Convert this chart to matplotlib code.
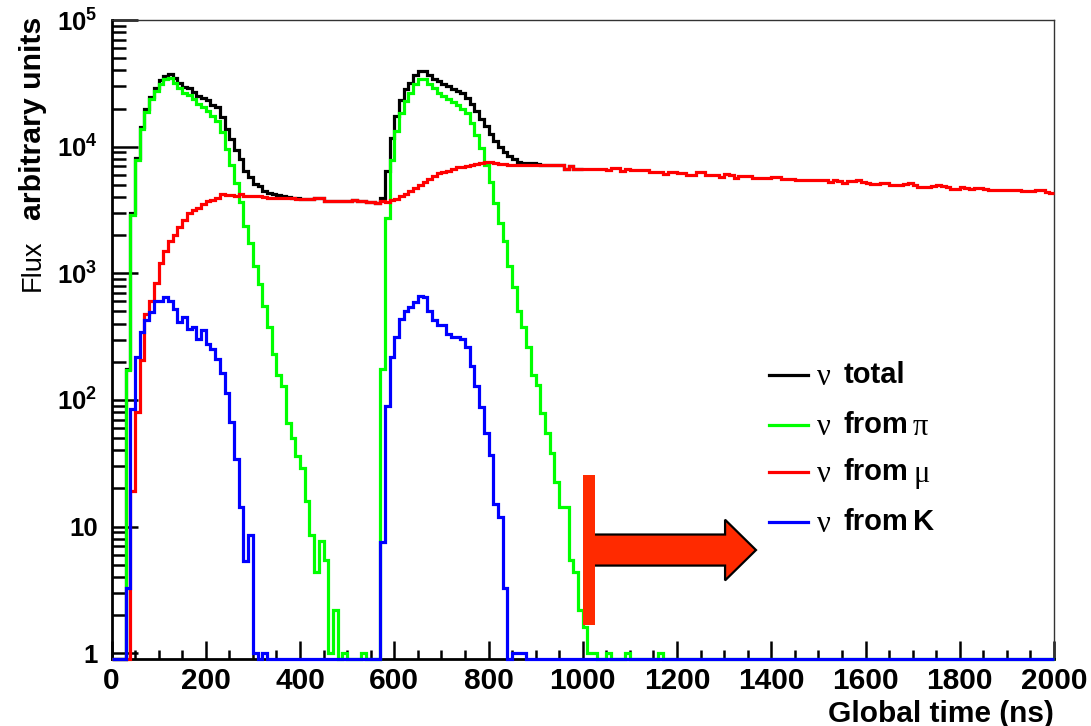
import numpy as np
import matplotlib
matplotlib.use("Agg")
import matplotlib.pyplot as plt
from matplotlib.ticker import MultipleLocator, LogLocator, NullFormatter
from matplotlib.patches import Polygon, Rectangle
from matplotlib.lines import Line2D

# ---------------- data (10 ns bins, 0 - 2000 ns) ----------------
bin_width_ns = 10
n_bins = 200

flux_mu = [
    0, 0, 0, 0, 19, 81, 206, 480, 600, 843,
    1210, 1490, 1790, 2020, 2340, 2640, 2980, 3160, 3300, 3500,
    3720, 3780, 3950, 4200, 4150, 4150, 4100, 4250, 4100, 4070,
    4070, 4050, 4000, 3950, 3950, 3950, 3920, 3900, 3900, 3870,
    3850, 3870, 3850, 3950, 3900, 3750, 3720, 3720, 3700, 3720,
    3750, 3780, 3750, 3700, 3650, 3650, 3560, 3750, 3650, 3780,
    3850, 4050, 4250, 4500, 4750, 5000, 5250, 5550, 5850, 6150,
    6300, 6450, 6700, 6900, 6900, 7000, 7100, 7300, 7400, 7550,
    7560, 7460, 7290, 7340, 7200, 7200, 7110, 7110, 7200, 7200,
    7110, 7110, 7110, 7110, 7110, 7110, 6700, 7000, 6630, 6630,
    6630, 6630, 6630, 6630, 6630, 6500, 6780, 6780, 6390, 6630,
    6500, 6500, 6500, 6500, 6310, 6310, 6310, 6100, 6310, 6310,
    6200, 6200, 5940, 5940, 6310, 6310, 5940, 5940, 5940, 5770,
    6130, 5940, 5670, 5830, 5830, 5830, 5670, 5700, 5700, 5700,
    5770, 5770, 5600, 5600, 5530, 5500, 5430, 5430, 5430, 5430,
    5430, 5430, 5270, 5430, 5350, 5210, 5340, 5340, 5430, 5300,
    5210, 5100, 5090, 5150, 5180, 5000, 4970, 5000, 5060, 5150,
    4950, 4820, 4800, 4770, 4900, 4970, 4920, 4800, 4630, 4650,
    4770, 4700, 4650, 4680, 4680, 4650, 4520, 4540, 4540, 4550,
    4570, 4570, 4520, 4480, 4480, 4480, 4540, 4540, 4350, 4320,
]

flux_pi = [
    0, 0, 0, 173, 2890, 7790, 13800, 18900, 23600, 27500,
    31500, 33900, 35000, 31900, 29200, 26700, 25400, 23700, 21600, 20400,
    19200, 17500, 16000, 13000, 9600, 7110, 5120, 3680, 2350, 1740,
    1140, 820, 555, 376, 232, 157, 128, 66, 50, 36,
    29, 16, 8.6, 4.4, 7.7, 5.4, 1, 2.2, 0, 1,
    0, 0, 0, 1, 0, 0, 0, 177, 2720, 7780,
    13400, 18600, 23000, 26700, 31000, 33900, 33900, 31000, 29200, 26700,
    25100, 23700, 22600, 21200, 19800, 18600, 15500, 12400, 9730, 7200,
    5270, 3570, 2490, 1790, 1140, 780, 507, 376, 262, 157,
    131, 79, 55, 38, 22.6, 14.2, 14.2, 5.4, 4.4, 2.2,
    1.6, 1, 1, 0, 0, 1, 0, 0, 0, 1,
    0, 0, 0, 0, 0, 0, 1, 0, 0, 0,
] + [0] * 80

flux_K = [
    0, 0, 0, 3.3, 85, 219, 344, 424, 492, 607,
    607, 653, 607, 523, 411, 450, 365, 376, 304, 354,
    278, 254, 212, 162, 113, 67, 34, 14.2, 5.3, 8.6,
    1, 0, 1, 0, 0, 0, 0, 0, 0, 0,
    0, 0, 0, 0, 0, 0, 0, 0, 0, 0,
    0, 0, 0, 0, 0, 0, 0, 7.6, 89, 219,
    314, 437, 507, 538, 589, 664, 645, 507, 424, 387,
    387, 333, 314, 314, 304, 262, 185, 129, 88, 55,
    37, 15, 11.9, 3.3, 0, 1, 1, 1, 0, 0,
] + [0] * 110

# total flux: visible part (beyond 1000 ns it coincides with the mu curve)
flux_total = [
    0, 0, 0, 176, 2994, 8090, 14350, 19800, 24700, 28950,
    33300, 36000, 37300, 34600, 32000, 29800, 28800, 27200, 25200, 24300,
    23300, 21500, 20500, 17100, 13800, 11400, 9400, 8000, 6400, 5800,
    5100, 4850, 4500, 4320, 4200, 4150, 4080, 3970, 3950, 3910,
    3880, 3890, 3860, 3955, 3908, 3755, 3721, 3722, 3700, 3721,
    3750, 3780, 3750, 3701, 3650, 3650, 3560, 3935, 6400, 11650,
    17300, 23400, 28300, 31900, 37100, 39400, 39400, 37100, 34500, 32900,
    31500, 30100, 28700, 27500, 26700, 24400, 21600, 19200, 16500, 14600,
    12600, 11100, 9850, 9100, 8450, 8000, 7620, 7490, 7460, 7360,
    7240, 7190, 7165, 7150, 7133, 7125, 6715, 7005, 6634, 6632,
]

legend_labels = [("\u03bd", "total", ""), ("\u03bd", "from", "\u03c0"),
                 ("\u03bd", "from", "\u03bc"), ("\u03bd", "from", "K")]
legend_colors = ["#000000", "#00ff00", "#ff0000", "#0000ff"]

xticks = [0, 200, 400, 600, 800, 1000, 1200, 1400, 1600, 1800, 2000]
yticks = [1, 10, 100, 1000, 10000, 100000]
ytick_labels = ["1", "10", r"$\mathbf{10^{2}}$", r"$\mathbf{10^{3}}$",
                r"$\mathbf{10^{4}}$", r"$\mathbf{10^{5}}$"]

# ---------------- style ----------------
plt.rcParams["font.family"] = ["Liberation Sans", "DejaVu Sans"]
plt.rcParams["font.weight"] = "bold"
plt.rcParams["mathtext.fontset"] = "custom"
plt.rcParams["mathtext.bf"] = "Liberation Sans:bold"
plt.rcParams["mathtext.rm"] = "Liberation Sans:bold"

YMIN, YMAX = 0.9, 1e5
edges = np.arange(n_bins + 1) * bin_width_ns

fig = plt.figure(figsize=(10.91, 7.26), dpi=100)
ax = fig.add_axes([111.5 / 1091, 1 - 659 / 726, (1054 - 111.5) / 1091, (659 - 20) / 726])
ax.set_yscale("log")
ax.set_xlim(0, 2000)
ax.set_ylim(YMIN, YMAX)


def draw(vals, color, z):
    v = np.clip(np.asarray(vals, dtype=float), YMIN, None)
    ax.stairs(v, edges[: len(v) + 1], color=color, lw=2.3, baseline=None,
              clip_on=False, zorder=z)


draw(flux_total, legend_colors[0], 3.0)
draw(flux_pi, legend_colors[1], 3.1)
draw(flux_mu, legend_colors[2], 3.2)
draw(flux_K, legend_colors[3], 3.3)

# spines
for s in ["left", "bottom"]:
    ax.spines[s].set_linewidth(2.0)
    ax.spines[s].set_color("black")
for s in ["top", "right"]:
    ax.spines[s].set_linewidth(1.0)
    ax.spines[s].set_color("#333333")

ax.set_xticks(xticks)
ax.xaxis.set_minor_locator(MultipleLocator(50))
ax.set_yticks(yticks, ytick_labels)
ax.yaxis.set_minor_locator(LogLocator(base=10, subs=np.arange(2, 10), numticks=20))
ax.yaxis.set_minor_formatter(NullFormatter())

ax.tick_params(axis="x", which="major", direction="in", length=13, width=1.8,
               pad=6, labelsize=21.5)
ax.tick_params(axis="x", which="minor", direction="in", length=6.5, width=1.8)
ax.tick_params(axis="y", which="major", direction="in", length=19, width=1.8,
               pad=10, labelsize=18.5)
ax.tick_params(axis="y", which="minor", direction="in", length=10, width=1.8)
ax.tick_params(top=False, right=False, which="both")

ax.set_xlabel("Global time (ns)", loc="right", fontsize=21.5, fontweight="bold",
              labelpad=3)

# y title: "Flux" (regular) + "arbitrary units" (bold)
fig.text(33 / 1091, 1 - 17 / 726, "arbitrary units", rotation=90, ha="center",
         va="top", fontsize=21.8, fontweight="bold")
fig.text(33 / 1091, 1 - 239 / 726, "Flux", rotation=90, ha="center", va="top",
         fontsize=19.5, fontweight="normal")

# legend (manual, ROOT style)
leg_y = [(659 - y) / 639 for y in (375, 425, 472, 522)]
serif = ["Liberation Serif", "DejaVu Serif"]
for (g1, word, g2), col, yy in zip(legend_labels, legend_colors, leg_y):
    ax.add_line(Line2D([0.6976, 0.7389], [yy, yy], color=col, lw=2.3,
                       transform=ax.transAxes))
    ax.text(0.7485, yy - 0.004, g1, transform=ax.transAxes, ha="left",
            va="center", fontsize=22, family=serif, fontweight="normal")
    ax.text(0.7771, yy, word, transform=ax.transAxes, ha="left",
            va="center", fontsize=21, fontweight="bold")
    if g2 == "K":
        ax.text(0.8504, yy, g2, transform=ax.transAxes, ha="left",
                va="center", fontsize=21, fontweight="bold")
    elif g2:
        ax.text(0.8504, yy - 0.004, g2, transform=ax.transAxes, ha="left",
                va="center", fontsize=22, family=serif, fontweight="normal")

# arrow annotation (axes fraction)
cy = 0.1705
x0 = 0.507
arrow = Polygon([(x0, cy - 0.0243), (0.651, cy - 0.0243), (0.651, cy - 0.0475),
                 (0.6838, cy), (0.651, cy + 0.0475), (0.651, cy + 0.0243),
                 (x0, cy + 0.0243)], closed=True, transform=ax.transAxes,
                facecolor="#ff2a00", edgecolor="black", lw=1.6, zorder=6)
ax.add_patch(arrow)
bar = Rectangle((0.5003, 0.0532), 0.0127, 0.288 - 0.0532, transform=ax.transAxes,
                facecolor="#ff2a00", edgecolor="none", zorder=7)
ax.add_patch(bar)

fig.savefig("out.png", dpi=100)
